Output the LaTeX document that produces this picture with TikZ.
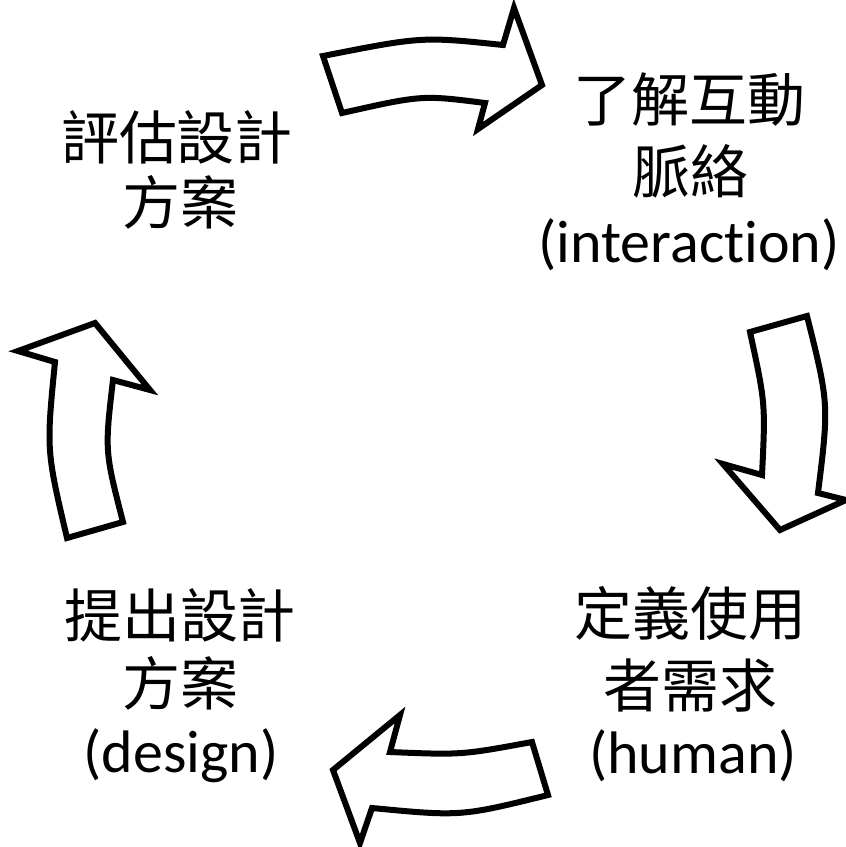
\documentclass[tikz,border=0pt]{standalone}
\usepackage{fontspec}
\setmainfont{Carlito}[Ligatures={NoCommon}]
\newfontfamily\cjk{Noto Sans CJK TC}
\begin{document}
\begin{tikzpicture}[x=1pt,y=-1pt]
\tikzset{
  blockarrow/.style={draw=black, line width=6pt, fill=white, line join=miter, miter limit=10},
  cjktext/.style={font=\cjk\fontsize{58}{60}\selectfont, anchor=base, inner sep=0pt},
  lattext/.style={font=\fontsize{60}{64}\selectfont, anchor=base, inner sep=0pt}
}
\useasboundingbox (0,0) rectangle (846,847);
\fill[white] (0,0) rectangle (846,847);

% top arrow (pointing right)
\draw[blockarrow] (323,56) .. controls (422,36.5) .. (503,45)
  -- (514,8) -- (542,85) -- (478,129) -- (485,103)
  .. controls (422,95) .. (342,113) -- cycle;

% right arrow (pointing down)
\draw[blockarrow] (750,332) -- (807,316) .. controls (829,404) .. (818,493)
  -- (846,500) -- (780,530) -- (723,464) -- (762,475)
  .. controls (765.5,403.5) .. cycle;

% bottom arrow (pointing left)
\draw[blockarrow] (532,742) -- (548,795) .. controls (461,816.5) .. (372,808)
  -- (360,843) -- (333,770) -- (400,715) -- (390,752)
  .. controls (461.5,755) .. cycle;

% left arrow (pointing up)
\draw[blockarrow] (67,538) -- (123,522) .. controls (104.7,451) .. (113,380)
  -- (150,390) -- (95,323) -- (18,351) -- (55,362)
  .. controls (46.3,450) .. cycle;

% texts
\node[cjktext] (tl1) at (177,159) {評估設計};
\node[cjktext] (tl2) at (180,224) {方案};

\node[cjktext] (tr1) at (689,121) {了解互動};
\node[cjktext] (tr2) at (690,193) {脈絡};
\node[lattext] (tr3) at (689,262) {(interaction)};

\node[cjktext] (br1) at (690,635) {定義使用};
\node[cjktext] (br2) at (690,707) {者需求};
\node[lattext] (br3) at (693,773) {(human)};

\node[cjktext] (bl1) at (180,637) {提出設計};
\node[cjktext] (bl2) at (180,705) {方案};
\node[lattext] (bl3) at (181,772) {(design)};
\end{tikzpicture}
\end{document}
